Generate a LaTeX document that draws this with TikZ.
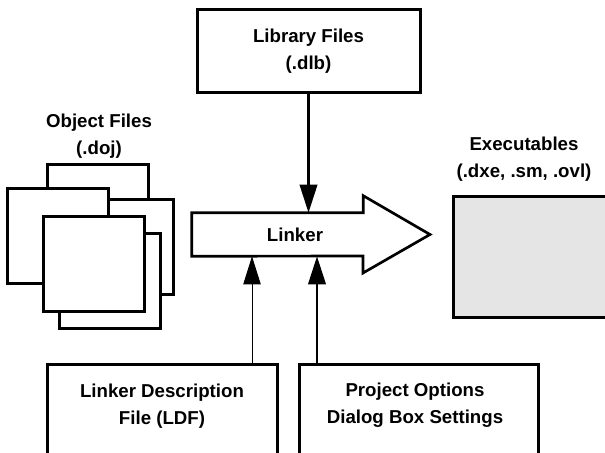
\documentclass[tikz,border=0pt]{standalone}
\usepackage{fontspec}
\setmainfont{Liberation Sans}
\usetikzlibrary{arrows.meta,positioning}

\begin{document}
\begin{tikzpicture}[
		x=0.75pt,y=-0.75pt,
		every node/.style={font=\bfseries\fontsize{14}{20.25}\selectfont,align=center},
		box/.style={draw,line width=2.25pt,fill=white,inner sep=0pt},
		page/.style={draw,line width=2.25pt,fill=white},
		feed/.style={-{Triangle[length=21pt,width=13pt]},line width=2pt},
		feedthin/.style={feed,line width=0.75pt}
	]
	\clip (0,0) rectangle (605,452);

	% library files
	\node[box,minimum width=167.25pt,minimum height=62.25pt] (lib) at (308.5,51.5) {Library Files\\(.dlb)};

	% object files
	\node (obj) at (99,136) {Object Files\\(.doj)};
	\foreach \x/\y in {47/165, 72/199, 7/188, 59/233, 43/216}
		\draw[page] (\x,\y) rectangle ++(101,95);

	% linker
	\node[minimum width=128.25pt,minimum height=32.25pt,inner sep=0pt] (shaft) at (277.5,234.5) {};
	\draw[line width=2pt,fill=white] (shaft.north west) -- (shaft.north east) -- ++(0,-17)
		-- (430,234.5) -- ++(-67,38.5) -- ++(0,-17) -- (shaft.south west) -- cycle;
	\node (linker) at (295,234.5) {Linker};

	% executables
	\node[box,fill=black!10,minimum width=150pt,minimum height=90.75pt,anchor=north west] (exe) at (452,195) {};
	\node (exelbl) at (524,159) {Executables\\(.dxe, .sm, .ovl)};

	% settings
	\node[box,minimum width=172.5pt,minimum height=90pt,anchor=north] (ldfbox) at (162,363) {};
	\node (ldf) at (162,406) {Linker Description\\File (LDF)};
	\node[box,minimum width=179.25pt,minimum height=90pt,anchor=north] (optbox) at (418.5,363) {};
	\node (opt) at (415,405) {Project Options\\Dialog Box Settings};

	\coordinate (ldfup) at (252,363);
	\coordinate (optup) at (317,363);
	\draw[feed] (lib) -- (lib |- shaft.north);
	\draw[feedthin] (ldfup) -- (ldfup |- shaft.south);
	\draw[feed] (optup) -- (optup |- shaft.south);

\end{tikzpicture}
\end{document}
